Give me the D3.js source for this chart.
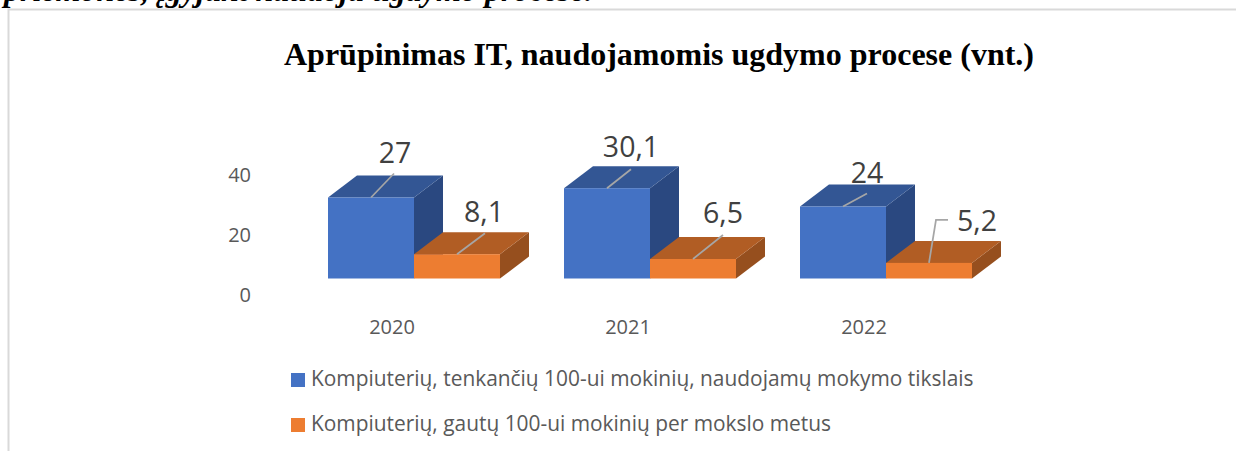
<!DOCTYPE html>
<html>
<head>
<meta charset="utf-8">
<script src="https://cdn.jsdelivr.net/npm/d3@7"></script>
<style>
  html, body { margin: 0; padding: 0; background: #fff; overflow: hidden; }
  svg { display: block; }
</style>
</head>
<body>
<svg width="1236" height="451"></svg>
<script>
// data
const YEARS = ['2020', '2021', '2022'];
const SERIES_KEYS = ['s1', 's2'];
const SERIES_NAMES = [
    'Kompiuterių, tenkančių 100-ui mokinių, naudojamų mokymo tikslais',
    'Kompiuterių, gautų 100-ui mokinių per mokslo metus'
];
const COMPUTERS_USED = [27, 30.1, 24];
const COMPUTERS_RECEIVED = [8.1, 6.5, 5.2];
const Y_TICKS = [0, 20, 40];
const TITLE = 'Aprūpinimas IT, naudojamomis ugdymo procese (vnt.)';
const CUT_OFF_LINE = 'priemonės, įgyjant naudoja ugdymo procese.';

const FRONT = ['#4472c4', '#ed7d31'];
const TOP = ['#335694', '#b15d24'];
const SIDE = ['#2a4880', '#964f1e'];
const SANS = '"Open Sans", sans-serif';

const svg = d3.select('svg');

// scales
const xScale = d3.scaleBand()
    .domain(YEARS)
    .range([328, 1036]) // 3 steps of 236
    .paddingInner(0)
    .paddingOuter(0);
const xSeries = d3.scaleBand()
    .domain(SERIES_KEYS)
    .range([0, 172]);
const yScale = d3.scaleLinear()
    .domain([0, 40])
    .range([278.5, 158.5]);

// 3d offset of the boxes
const DEPTH_X = 29;
const DEPTH_Y = -22;

// frame around the chart, only top and left show
svg.append('path')
    .attr('d', 'M8.5,451V9.5H1236')
    .attr('fill', 'none')
    .attr('stroke', '#d9d9d9')
    .attr('stroke-width', 2);

// line of the page above the chart, cut by the crop
svg.append('text')
    .attr('x', 4)
    .attr('y', 1)
    .attr('font-family', '"Liberation Serif", serif')
    .attr('font-weight', 'bold')
    .attr('font-style', 'italic')
    .attr('font-size', 32)
    .attr('fill', '#000')
    .text(CUT_OFF_LINE);

svg.append('text')
    .attr('x', 659)
    .attr('y', 65)
    .attr('text-anchor', 'middle')
    .attr('font-family', '"Liberation Serif", serif')
    .attr('font-weight', 'bold')
    .attr('font-size', 32)
    .attr('fill', '#000')
    .text(TITLE);

// y axis, labels only. sits lower than the boxes like in the original
const yAxis = d3.axisLeft(yScale)
    .tickValues(Y_TICKS)
    .tickSize(0)
    .tickPadding(0);
svg.append('g')
    .attr('transform', 'translate(251,17)')
    .call(yAxis)
    .call(g => g.select('.domain').remove())
    .call(g => g.selectAll('text')
        .attr('font-family', SANS)
        .attr('font-size', 20)
        .attr('fill', '#595959'));

// x axis, labels only
const xAxis = d3.axisBottom(xScale)
    .tickSize(0)
    .tickPadding(0);
svg.append('g')
    .attr('transform', 'translate(-54,320)')
    .call(xAxis)
    .call(g => g.select('.domain').remove())
    .call(g => g.selectAll('text')
        .attr('font-family', SANS)
        .attr('font-size', 20)
        .attr('fill', '#595959'));

const rows = YEARS.map((year, i) => [
    {year, key: 's1', s: 0, i, value: COMPUTERS_USED[i]},
    {year, key: 's2', s: 1, i, value: COMPUTERS_RECEIVED[i]}
]);

const boxes = svg.selectAll('.year')
    .data(rows)
    .enter()
    .append('g')
    .classed('year', true)
    .selectAll('.box')
    .data(d => d)
    .enter()
    .append('g')
    .classed('box', true);

const boxX = d => xScale(d.year) + xSeries(d.key);

// side face
boxes.append('path')
    .attr('fill', d => SIDE[d.s])
    .attr('d', d => {
        const x1 = boxX(d) + xSeries.bandwidth();
        return d3.line()([
            [x1, yScale(0)],
            [x1 + DEPTH_X, yScale(0) + DEPTH_Y],
            [x1 + DEPTH_X, yScale(d.value) + DEPTH_Y],
            [x1, yScale(d.value)]
        ]) + 'Z';
    });

// top face
boxes.append('path')
    .attr('fill', d => TOP[d.s])
    .attr('d', d => {
        const x0 = boxX(d);
        const x1 = x0 + xSeries.bandwidth();
        const y = yScale(d.value);
        return d3.line()([
            [x0, y],
            [x0 + DEPTH_X, y + DEPTH_Y],
            [x1 + DEPTH_X, y + DEPTH_Y],
            [x1, y]
        ]) + 'Z';
    });

// front face
boxes.append('rect')
    .attr('fill', d => FRONT[d.s])
    .attr('x', boxX)
    .attr('y', d => yScale(d.value))
    .attr('width', xSeries.bandwidth())
    .attr('height', d => yScale(0) - yScale(d.value));

// labels were dragged by hand in the original, so each has its own offset
// from the middle of the front top edge: [series][year]
const LEADER_OFFSET = [
    [[23, -24], [24, -19], [24, -13]],
    [[28, -21], [30, -24], [7, -43]]
];
const LABEL_OFFSET = [
    [[24, -35], [24, -31], [24, -24]],
    [[27, -32], [30, -36], [48, -32]]
];

const fmt = v => String(v).replace('.', ',');
boxes.append('path')
    .attr('fill', 'none')
    .attr('stroke', '#a6a6a6')
    .attr('stroke-width', 1.75)
    .attr('d', d => {
        const x = boxX(d) + xSeries.bandwidth() / 2;
        const y = yScale(d.value);
        const [dx, dy] = LEADER_OFFSET[d.s][d.i];
        const pts = [[x, y], [x + dx, y + dy]];
        if (d.year === '2022' && d.s === 1) pts.push([x + dx + 12, y + dy]);
        return d3.line()(pts);
    });

boxes.append('text')
    .attr('x', d => boxX(d) + xSeries.bandwidth() / 2 + LABEL_OFFSET[d.s][d.i][0])
    .attr('y', d => yScale(d.value) + LABEL_OFFSET[d.s][d.i][1])
    .attr('text-anchor', 'middle')
    .attr('font-family', SANS)
    .attr('font-size', 28.5)
    .attr('fill', '#404040')
    .text(d => fmt(d.value));

// legend
const legend = svg.selectAll('.legend')
    .data(SERIES_NAMES)
    .enter()
    .append('g')
    .classed('legend', true)
    .attr('transform', (d, i) => `translate(291,${373 + i * 45})`);
legend.append('rect')
    .attr('width', 14)
    .attr('height', 14)
    .attr('fill', (d, i) => FRONT[i]);
legend.append('text')
    .attr('x', 20)
    .attr('y', 13)
    .attr('font-family', SANS)
    .attr('font-size', 20.9)
    .attr('fill', '#595959')
    .text(d => d);
</script>
</body>
</html>
